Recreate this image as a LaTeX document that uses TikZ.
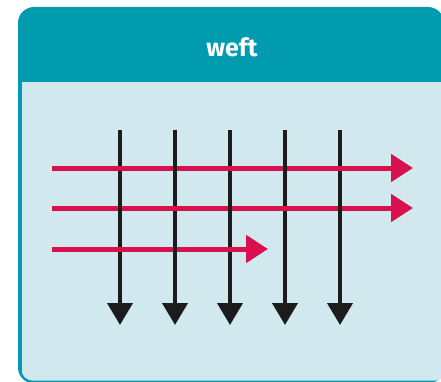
\documentclass[tikz,border=0pt]{standalone}
\usepackage{fontspec}
\setmainfont{Fira Sans}
\usetikzlibrary{arrows.meta}
\definecolor{headteal}{HTML}{009BAE}
\definecolor{panelblue}{HTML}{D0E8EE}
\definecolor{weftred}{HTML}{D8104E}
\definecolor{warpblack}{HTML}{1C1C1C}
\tikzset{
  warp/.style={draw=warpblack, line width=4pt, -{Triangle[length=22pt,width=25pt]}},
  warpover/.style={draw=warpblack, line width=4pt},
  weft/.style={draw=weftred, line width=5pt, -{Triangle[length=22pt,width=27pt]}},
  title/.style={text=white, font=\bfseries\fontsize{25}{25}\selectfont, inner sep=0pt}
}
\begin{document}
\begin{tikzpicture}[x=1pt,y=-1pt]
\clip (0,0) rectangle (441,382);
\fill[white] (0,0) rectangle (441,382);
% outer teal frame
\fill[headteal, rounded corners=16pt] (18,383.5) -- (18,7) -- (444,7) -- (444,383.5) -- cycle;
% light panel with a rounded lower-left corner
\begin{scope}
  \clip[rounded corners=11pt] (21.5,0) rectangle (447,380.5);
  \fill[panelblue] (21.5,82) rectangle (447,381);
\end{scope}
\node[title] (t) at (232,47) {weft};
% endpoints
\foreach \i/\x in {1/120,2/175,3/230,4/285,5/340}{
  \coordinate (v\i s) at (\x,130);
  \coordinate (v\i e) at (\x,325);
}
\coordinate (h1s) at (52,168); \coordinate (h1e) at (413,168);
\coordinate (h2s) at (52,208); \coordinate (h2e) at (413,208);
\coordinate (h3s) at (52,249); \coordinate (h3e) at (268,249);
% warp threads
\foreach \i in {1,...,5}{ \draw[warp] (v\i s) -- (v\i e); }
% weft threads
\foreach \j in {1,2,3}{ \draw[weft] (h\j s) -- (h\j e); }
% warp over weft at alternate crossings
\foreach \i/\j in {2/1,4/1,1/2,3/2,5/2,2/3}{
  \coordinate (c\i\j) at (v\i s |- h\j s);
  \draw[warpover] ([yshift=-6pt]c\i\j) -- ([yshift=6pt]c\i\j);
}
\end{tikzpicture}
\end{document}
